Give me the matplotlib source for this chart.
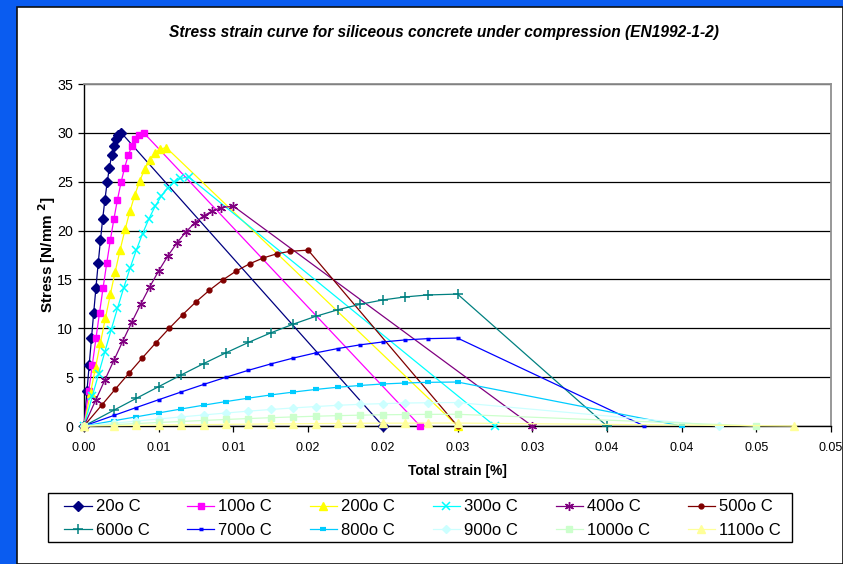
import matplotlib
matplotlib.use('Agg')
import matplotlib.pyplot as plt
from matplotlib.patches import Rectangle
from matplotlib import font_manager as fm

names = {f.name for f in fm.fontManager.ttflist}
NARROW = 'Liberation Sans Narrow' if 'Liberation Sans Narrow' in names else 'Liberation Sans'
REG = 'Liberation Sans' if 'Liberation Sans' in names else 'DejaVu Sans'

# ---------------- data ----------------
labels = ['20o C', '100o C', '200o C', '300o C', '400o C', '500o C',
          '600o C', '700o C', '800o C', '900o C', '1000o C', '1100o C']

x_ticks = [0.0, 0.005, 0.01, 0.015, 0.02, 0.025, 0.03, 0.035, 0.04, 0.045, 0.05]
x_ticklabels = ['0.00', '0.01', '0.01', '0.02', '0.02', '0.03', '0.03',
                '0.04', '0.04', '0.05', '0.05']
y_ticks = [0, 5, 10, 15, 20, 25, 30, 35]

strain_20 = [0, 0.0002, 0.00035, 0.0005, 0.00065, 0.0008, 0.00095, 0.0011, 0.00125,
             0.0014, 0.00155, 0.0017, 0.00185, 0.002, 0.00215, 0.0023, 0.0025, 0.02]
stress_20 = [0, 3.60, 6.29, 8.96, 11.60, 14.17, 16.64, 18.99, 21.18,
             23.17, 24.93, 26.44, 27.69, 28.66, 29.36, 29.80, 30.0, 0]

strain_100 = [0, 0.00032, 0.00056, 0.0008, 0.00104, 0.00128, 0.00152, 0.00176, 0.002,
              0.00224, 0.00248, 0.00272, 0.00296, 0.0032, 0.00344, 0.00368, 0.004, 0.0225]
stress_100 = [0, 3.60, 6.29, 8.96, 11.60, 14.17, 16.64, 18.99, 21.18,
              23.17, 24.93, 26.44, 27.69, 28.66, 29.36, 29.80, 30.0, 0]

strain_200 = [0, 0.00044, 0.00077, 0.0011, 0.00143, 0.00176, 0.00209, 0.00242, 0.00275,
              0.00308, 0.00341, 0.00374, 0.00407, 0.0044, 0.00473, 0.00506, 0.0055, 0.025]
stress_200 = [0, 3.42, 5.98, 8.52, 11.02, 13.46, 15.81, 18.04, 20.12,
              22.01, 23.68, 25.12, 26.31, 27.23, 27.89, 28.31, 28.5, 0]

strain_300 = [0, 0.00056, 0.00098, 0.0014, 0.00182, 0.00224, 0.00266, 0.00308, 0.0035,
              0.00392, 0.00434, 0.00476, 0.00518, 0.0056, 0.00602, 0.00644, 0.007, 0.0275]
stress_300 = [0, 3.06, 5.35, 7.62, 9.86, 12.04, 14.15, 16.14, 18.00,
              19.69, 21.19, 22.48, 23.54, 24.36, 24.96, 25.33, 25.5, 0]

strain_400 = [0, 0.0008, 0.0014, 0.002, 0.0026, 0.0032, 0.0038, 0.0044, 0.005,
              0.0056, 0.0062, 0.0068, 0.0074, 0.008, 0.0086, 0.0092, 0.01, 0.03]
stress_400 = [0, 2.70, 4.72, 6.72, 8.70, 10.63, 12.48, 14.24, 15.88,
              17.37, 18.70, 19.83, 20.77, 21.50, 22.02, 22.35, 22.5, 0]

strain_500 = [0, 0.0012, 0.0021, 0.003, 0.0039, 0.0048, 0.0057, 0.0066, 0.0075,
              0.0084, 0.0093, 0.0102, 0.0111, 0.012, 0.0129, 0.0138, 0.015, 0.025]
stress_500 = [0, 2.16, 3.78, 5.38, 6.96, 8.50, 9.99, 11.39, 12.71,
              13.90, 14.96, 15.87, 16.61, 17.20, 17.62, 17.88, 18.0, 0]

strain_600 = [0, 0.002, 0.0035, 0.005, 0.0065, 0.008, 0.0095, 0.011, 0.0125,
              0.014, 0.0155, 0.017, 0.0185, 0.02, 0.0215, 0.023, 0.025, 0.035]
stress_600 = [0, 1.62, 2.83, 4.03, 5.22, 6.38, 7.49, 8.55, 9.53,
              10.42, 11.22, 11.90, 12.46, 12.90, 13.21, 13.41, 13.5, 0]

strain_700 = [0, 0.002, 0.0035, 0.005, 0.0065, 0.008, 0.0095, 0.011, 0.0125,
              0.014, 0.0155, 0.017, 0.0185, 0.02, 0.0215, 0.023, 0.025, 0.0375]
stress_700 = [0, 1.08, 1.89, 2.69, 3.48, 4.25, 4.99, 5.70, 6.35,
              6.95, 7.48, 7.93, 8.31, 8.60, 8.81, 8.94, 9.0, 0]

strain_800 = [0, 0.002, 0.0035, 0.005, 0.0065, 0.008, 0.0095, 0.011, 0.0125,
              0.014, 0.0155, 0.017, 0.0185, 0.02, 0.0215, 0.023, 0.025, 0.04]
stress_800 = [0, 0.54, 0.94, 1.34, 1.74, 2.13, 2.50, 2.85, 3.18,
              3.47, 3.74, 3.97, 4.15, 4.30, 4.40, 4.47, 4.5, 0]

strain_900 = [0, 0.002, 0.0035, 0.005, 0.0065, 0.008, 0.0095, 0.011, 0.0125,
              0.014, 0.0155, 0.017, 0.0185, 0.02, 0.0215, 0.023, 0.025, 0.0425]
stress_900 = [0, 0.29, 0.50, 0.72, 0.93, 1.13, 1.33, 1.52, 1.69,
              1.85, 1.99, 2.12, 2.22, 2.29, 2.35, 2.38, 2.4, 0]

strain_1000 = [0, 0.002, 0.0035, 0.005, 0.0065, 0.008, 0.0095, 0.011, 0.0125,
               0.014, 0.0155, 0.017, 0.0185, 0.02, 0.0215, 0.023, 0.025, 0.045]
stress_1000 = [0, 0.14, 0.25, 0.36, 0.46, 0.57, 0.67, 0.76, 0.85,
               0.93, 1.00, 1.06, 1.11, 1.15, 1.17, 1.19, 1.2, 0]

strain_1100 = [0, 0.002, 0.0035, 0.005, 0.0065, 0.008, 0.0095, 0.011, 0.0125,
               0.014, 0.0155, 0.017, 0.0185, 0.02, 0.0215, 0.023, 0.025, 0.0475]
stress_1100 = [0, 0.04, 0.06, 0.09, 0.12, 0.14, 0.17, 0.19, 0.21,
               0.23, 0.25, 0.26, 0.28, 0.29, 0.29, 0.30, 0.3, 0]

strains = [strain_20, strain_100, strain_200, strain_300, strain_400, strain_500,
           strain_600, strain_700, strain_800, strain_900, strain_1000, strain_1100]
stresses = [stress_20, stress_100, stress_200, stress_300, stress_400, stress_500,
            stress_600, stress_700, stress_800, stress_900, stress_1000, stress_1100]

# ---------------- styles ----------------
colors = ['#000080', '#FF00FF', '#FFFF00', '#00FFFF', '#800080', '#800000',
          '#008080', '#0000FF', '#00CCFF', '#CCFFFF', '#CCFFCC', '#FFFF99']
markers = ['D', 's', '^', 'x', (6, 2, 0), 'o', '+', '_', '_', 'D', 's', '^']
msizes = [4.8, 5.0, 6.0, 5.5, 6.5, 3.5, 7.0, 3.0, 4.5, 4.5, 5.0, 6.0]
mews = [1, 1, 1, 1.1, 1.0, 1, 1.1, 2.5, 3.0, 1, 1, 1]

W, H = 843, 564
fig = plt.figure(figsize=(W / 100, H / 100), dpi=100)
fig.patch.set_facecolor('#0a5cf0')
fig.patches.append(Rectangle((17 / W, 0), 1 - 17 / W, 1 - 6.5 / H,
                             transform=fig.transFigure, facecolor='white',
                             edgecolor='#101010', linewidth=1.2, zorder=-10))
# legend frame
fig.patches.append(Rectangle((48 / W, 1 - 542 / H), (792 - 48) / W, (542 - 493) / H,
                             transform=fig.transFigure, facecolor='white',
                             edgecolor='black', linewidth=1.0, zorder=-5))

ax = fig.add_axes([84 / W, 1 - 426 / H, (831 - 84) / W, (426 - 84) / H], zorder=1)
ax.set_facecolor('white')

handles = []
for i in range(12):
    h, = ax.plot(strains[i], stresses[i], color=colors[i], lw=0.9,
                 marker=markers[i], ms=msizes[i], mfc=colors[i], mec=colors[i],
                 mew=mews[i], clip_on=False, zorder=3 + i * 0.1)
    handles.append(h)

ax.set_xlim(0, 0.05)
ax.set_ylim(0, 35)
ax.set_xticks(x_ticks)
ax.set_xticklabels(x_ticklabels, fontfamily=NARROW, fontsize=9)
ax.set_yticks(y_ticks)
ax.set_yticklabels([str(v) for v in y_ticks], fontfamily=REG, fontsize=10.3)
ax.tick_params(axis='both', direction='out', length=4, width=0.9, color='black',
               labelcolor='black')
ax.tick_params(axis='x', pad=7.2)
ax.tick_params(axis='y', pad=4)
ax.yaxis.grid(True, color='black', lw=0.9)
ax.set_axisbelow(True)
for side in ['left', 'bottom']:
    ax.spines[side].set_color('black')
    ax.spines[side].set_linewidth(1.0)
for side in ['top', 'right']:
    ax.spines[side].set_color('#909090')
    ax.spines[side].set_linewidth(1.3)

ax.set_xlabel('Total strain [%]', fontfamily=NARROW, fontweight='bold',
              fontsize=10, labelpad=7.5)
ax.set_ylabel(r'Stress [N/mm $^{\mathbf{2}}$]', fontfamily=REG, fontweight='bold',
              fontsize=11, labelpad=-0.5)

fig.text(443.5 / W, 1 - 33 / H,
         'Stress strain curve for siliceous concrete under compression (EN1992-1-2)',
         fontfamily=NARROW, fontweight='bold', fontstyle='italic', fontsize=11.2,
         ha='center', va='center')

# legend filled row-wise like the original (matplotlib fills column-wise)
order = [0, 6, 1, 7, 2, 8, 3, 9, 4, 10, 5, 11]
leg = fig.legend([handles[i] for i in order], [labels[i] for i in order], ncol=6,
                 loc='center',
                 bbox_to_anchor=(64 / W, 1 - 542 / H, (781 - 64) / W, (542 - 495) / H),
                 mode='expand', frameon=False, borderaxespad=0, borderpad=0,
                 handlelength=1.65, handletextpad=0.25, columnspacing=1.0,
                 labelspacing=0.5, prop={'family': REG, 'size': 12})

fig.savefig('out.png', dpi=100, facecolor=fig.get_facecolor())
